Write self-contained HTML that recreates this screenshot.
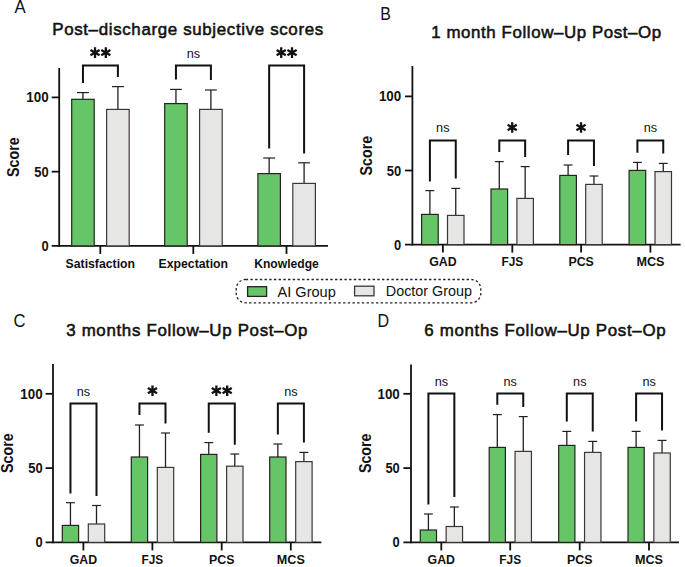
<!DOCTYPE html>
<html><head><meta charset="utf-8"><title>Figure</title>
<style>
html,body{margin:0;padding:0;background:#fff;}
body{width:685px;height:567px;overflow:hidden;}
svg{display:block;font-family:"Liberation Sans",sans-serif;fill:#111;}
svg text{fill:#111;}
</style></head>
<body>
<svg width="685" height="567" viewBox="0 0 685 567">
<rect width="685" height="567" fill="#fff"/>
<text x="14.60" y="12.90" font-size="17.5" font-weight="normal" text-anchor="start" textLength="11.2" lengthAdjust="spacingAndGlyphs">A</text>
<text x="52.20" y="35.20" font-size="16.9" font-weight="normal" text-anchor="start" textLength="271" lengthAdjust="spacing" stroke="#111" stroke-width="0.55">Post–discharge subjective scores</text>
<line x1="59.20" y1="68.00" x2="59.20" y2="246.80" stroke="#111" stroke-width="1.8" stroke-linecap="butt"/>
<line x1="51.70" y1="245.90" x2="328.00" y2="245.90" stroke="#111" stroke-width="1.8" stroke-linecap="butt"/>
<line x1="51.70" y1="171.65" x2="59.20" y2="171.65" stroke="#111" stroke-width="1.8" stroke-linecap="butt"/>
<line x1="51.70" y1="97.40" x2="59.20" y2="97.40" stroke="#111" stroke-width="1.8" stroke-linecap="butt"/>
<text x="48.60" y="250.90" font-size="14.6" font-weight="bold" text-anchor="end" textLength="7.2" lengthAdjust="spacingAndGlyphs">0</text>
<text x="48.60" y="176.65" font-size="14.6" font-weight="bold" text-anchor="end" textLength="14.4" lengthAdjust="spacingAndGlyphs">50</text>
<text x="48.60" y="102.40" font-size="14.6" font-weight="bold" text-anchor="end" textLength="22.3" lengthAdjust="spacingAndGlyphs">100</text>
<text x="0" y="0" font-size="16.2" font-weight="bold" text-anchor="middle" textLength="39.6" lengthAdjust="spacingAndGlyphs" transform="translate(18.50,157.20) rotate(-90)">Score</text>
<line x1="100.30" y1="245.90" x2="100.30" y2="253.90" stroke="#111" stroke-width="1.8" stroke-linecap="butt"/>
<text x="100.30" y="268.20" font-size="13" font-weight="bold" text-anchor="middle" textLength="69.5" lengthAdjust="spacingAndGlyphs">Satisfaction</text>
<line x1="82.95" y1="99.30" x2="82.95" y2="92.60" stroke="#261e1e" stroke-width="1.3" stroke-linecap="butt"/>
<line x1="77.00" y1="92.60" x2="88.90" y2="92.60" stroke="#261e1e" stroke-width="1.2" stroke-linecap="butt"/>
<line x1="117.90" y1="109.40" x2="117.90" y2="86.60" stroke="#261e1e" stroke-width="1.3" stroke-linecap="butt"/>
<line x1="111.95" y1="86.60" x2="123.85" y2="86.60" stroke="#261e1e" stroke-width="1.2" stroke-linecap="butt"/>
<rect x="71.70" y="99.30" width="22.50" height="146.60" fill="#66c566" stroke="#262222" stroke-width="1.2"/>
<rect x="106.60" y="109.40" width="22.60" height="136.50" fill="#e6e6e5" stroke="#3e3636" stroke-width="1.2"/>
<path d="M82.95,83.00V65.50H117.90V76.90" stroke="#111" stroke-width="2.0" fill="none" stroke-linejoin="miter"/>
<path d="M95.02,47.30V57.90M90.44,49.95L99.61,55.25M90.44,55.25L99.61,49.95" stroke="#111" stroke-width="2.3" stroke-linecap="butt" fill="none"/>
<path d="M105.82,47.30V57.90M101.24,49.95L110.41,55.25M101.24,55.25L110.41,49.95" stroke="#111" stroke-width="2.3" stroke-linecap="butt" fill="none"/>
<line x1="193.30" y1="245.90" x2="193.30" y2="253.90" stroke="#111" stroke-width="1.8" stroke-linecap="butt"/>
<text x="193.30" y="268.20" font-size="13" font-weight="bold" text-anchor="middle" textLength="69.5" lengthAdjust="spacingAndGlyphs">Expectation</text>
<line x1="175.95" y1="103.60" x2="175.95" y2="89.40" stroke="#261e1e" stroke-width="1.3" stroke-linecap="butt"/>
<line x1="170.00" y1="89.40" x2="181.90" y2="89.40" stroke="#261e1e" stroke-width="1.2" stroke-linecap="butt"/>
<line x1="210.90" y1="109.40" x2="210.90" y2="90.00" stroke="#261e1e" stroke-width="1.3" stroke-linecap="butt"/>
<line x1="204.95" y1="90.00" x2="216.85" y2="90.00" stroke="#261e1e" stroke-width="1.2" stroke-linecap="butt"/>
<rect x="164.70" y="103.60" width="22.50" height="142.30" fill="#66c566" stroke="#262222" stroke-width="1.2"/>
<rect x="199.60" y="109.40" width="22.60" height="136.50" fill="#e6e6e5" stroke="#3e3636" stroke-width="1.2"/>
<path d="M175.95,79.40V65.50H210.90V80.00" stroke="#111" stroke-width="2.0" fill="none" stroke-linejoin="miter"/>
<text x="193.43" y="57.60" font-size="13.6" font-weight="normal" text-anchor="middle" textLength="13.4" lengthAdjust="spacingAndGlyphs">ns</text>
<line x1="286.50" y1="245.90" x2="286.50" y2="253.90" stroke="#111" stroke-width="1.8" stroke-linecap="butt"/>
<text x="286.50" y="268.20" font-size="13" font-weight="bold" text-anchor="middle" textLength="64.6" lengthAdjust="spacingAndGlyphs">Knowledge</text>
<line x1="269.15" y1="173.60" x2="269.15" y2="158.00" stroke="#261e1e" stroke-width="1.3" stroke-linecap="butt"/>
<line x1="263.20" y1="158.00" x2="275.10" y2="158.00" stroke="#261e1e" stroke-width="1.2" stroke-linecap="butt"/>
<line x1="304.10" y1="183.40" x2="304.10" y2="162.80" stroke="#261e1e" stroke-width="1.3" stroke-linecap="butt"/>
<line x1="298.15" y1="162.80" x2="310.05" y2="162.80" stroke="#261e1e" stroke-width="1.2" stroke-linecap="butt"/>
<rect x="257.90" y="173.60" width="22.50" height="72.30" fill="#66c566" stroke="#262222" stroke-width="1.2"/>
<rect x="292.80" y="183.40" width="22.60" height="62.50" fill="#e6e6e5" stroke="#3e3636" stroke-width="1.2"/>
<path d="M269.15,148.40V65.50H304.10V153.40" stroke="#111" stroke-width="2.0" fill="none" stroke-linejoin="miter"/>
<path d="M281.23,47.30V57.90M276.64,49.95L285.81,55.25M276.64,55.25L285.81,49.95" stroke="#111" stroke-width="2.3" stroke-linecap="butt" fill="none"/>
<path d="M292.02,47.30V57.90M287.44,49.95L296.61,55.25M287.44,55.25L296.61,49.95" stroke="#111" stroke-width="2.3" stroke-linecap="butt" fill="none"/>
<text x="380.20" y="19.60" font-size="17.5" font-weight="normal" text-anchor="start" textLength="10.6" lengthAdjust="spacingAndGlyphs">B</text>
<text x="431.20" y="38.20" font-size="16.9" font-weight="normal" text-anchor="start" textLength="230" lengthAdjust="spacing" stroke="#111" stroke-width="0.55">1 month Follow–Up Post–Op</text>
<line x1="412.40" y1="66.00" x2="412.40" y2="245.50" stroke="#111" stroke-width="1.8" stroke-linecap="butt"/>
<line x1="405.00" y1="244.60" x2="680.60" y2="244.60" stroke="#111" stroke-width="1.8" stroke-linecap="butt"/>
<line x1="405.00" y1="170.50" x2="412.40" y2="170.50" stroke="#111" stroke-width="1.8" stroke-linecap="butt"/>
<line x1="405.00" y1="96.40" x2="412.40" y2="96.40" stroke="#111" stroke-width="1.8" stroke-linecap="butt"/>
<text x="401.20" y="249.60" font-size="14.6" font-weight="bold" text-anchor="end" textLength="7.2" lengthAdjust="spacingAndGlyphs">0</text>
<text x="401.20" y="175.50" font-size="14.6" font-weight="bold" text-anchor="end" textLength="14.4" lengthAdjust="spacingAndGlyphs">50</text>
<text x="401.20" y="101.40" font-size="14.6" font-weight="bold" text-anchor="end" textLength="22.3" lengthAdjust="spacingAndGlyphs">100</text>
<text x="0" y="0" font-size="16.2" font-weight="bold" text-anchor="middle" textLength="39.6" lengthAdjust="spacingAndGlyphs" transform="translate(372.20,155.70) rotate(-90)">Score</text>
<line x1="442.90" y1="244.60" x2="442.90" y2="252.60" stroke="#111" stroke-width="1.8" stroke-linecap="butt"/>
<text x="442.90" y="265.80" font-size="13" font-weight="bold" text-anchor="middle" textLength="27.4" lengthAdjust="spacingAndGlyphs">GAD</text>
<line x1="429.90" y1="214.40" x2="429.90" y2="190.60" stroke="#261e1e" stroke-width="1.3" stroke-linecap="butt"/>
<line x1="425.45" y1="190.60" x2="434.35" y2="190.60" stroke="#261e1e" stroke-width="1.2" stroke-linecap="butt"/>
<line x1="455.75" y1="215.40" x2="455.75" y2="188.40" stroke="#261e1e" stroke-width="1.3" stroke-linecap="butt"/>
<line x1="451.30" y1="188.40" x2="460.20" y2="188.40" stroke="#261e1e" stroke-width="1.2" stroke-linecap="butt"/>
<rect x="421.60" y="214.40" width="16.60" height="30.20" fill="#66c566" stroke="#262222" stroke-width="1.2"/>
<rect x="447.50" y="215.40" width="16.50" height="29.20" fill="#e6e6e5" stroke="#3e3636" stroke-width="1.2"/>
<path d="M429.90,181.40V140.40H455.75V178.40" stroke="#111" stroke-width="2.0" fill="none" stroke-linejoin="miter"/>
<text x="442.82" y="131.80" font-size="13.6" font-weight="normal" text-anchor="middle" textLength="13.4" lengthAdjust="spacingAndGlyphs">ns</text>
<line x1="512.30" y1="244.60" x2="512.30" y2="252.60" stroke="#111" stroke-width="1.8" stroke-linecap="butt"/>
<text x="512.30" y="265.80" font-size="13" font-weight="bold" text-anchor="middle" textLength="21.8" lengthAdjust="spacingAndGlyphs">FJS</text>
<line x1="499.30" y1="189.00" x2="499.30" y2="161.60" stroke="#261e1e" stroke-width="1.3" stroke-linecap="butt"/>
<line x1="494.85" y1="161.60" x2="503.75" y2="161.60" stroke="#261e1e" stroke-width="1.2" stroke-linecap="butt"/>
<line x1="525.15" y1="198.40" x2="525.15" y2="166.60" stroke="#261e1e" stroke-width="1.3" stroke-linecap="butt"/>
<line x1="520.70" y1="166.60" x2="529.60" y2="166.60" stroke="#261e1e" stroke-width="1.2" stroke-linecap="butt"/>
<rect x="491.00" y="189.00" width="16.60" height="55.60" fill="#66c566" stroke="#262222" stroke-width="1.2"/>
<rect x="516.90" y="198.40" width="16.50" height="46.20" fill="#e6e6e5" stroke="#3e3636" stroke-width="1.2"/>
<path d="M499.30,152.00V140.40H525.15V157.00" stroke="#111" stroke-width="2.0" fill="none" stroke-linejoin="miter"/>
<path d="M512.22,122.20V132.80M507.64,124.85L516.81,130.15M507.64,130.15L516.81,124.85" stroke="#111" stroke-width="2.3" stroke-linecap="butt" fill="none"/>
<line x1="581.10" y1="244.60" x2="581.10" y2="252.60" stroke="#111" stroke-width="1.8" stroke-linecap="butt"/>
<text x="581.10" y="265.80" font-size="13" font-weight="bold" text-anchor="middle" textLength="25.4" lengthAdjust="spacingAndGlyphs">PCS</text>
<line x1="568.10" y1="175.40" x2="568.10" y2="165.00" stroke="#261e1e" stroke-width="1.3" stroke-linecap="butt"/>
<line x1="563.65" y1="165.00" x2="572.55" y2="165.00" stroke="#261e1e" stroke-width="1.2" stroke-linecap="butt"/>
<line x1="593.95" y1="184.40" x2="593.95" y2="176.00" stroke="#261e1e" stroke-width="1.3" stroke-linecap="butt"/>
<line x1="589.50" y1="176.00" x2="598.40" y2="176.00" stroke="#261e1e" stroke-width="1.2" stroke-linecap="butt"/>
<rect x="559.80" y="175.40" width="16.60" height="69.20" fill="#66c566" stroke="#262222" stroke-width="1.2"/>
<rect x="585.70" y="184.40" width="16.50" height="60.20" fill="#e6e6e5" stroke="#3e3636" stroke-width="1.2"/>
<path d="M568.10,155.00V140.40H593.95V166.00" stroke="#111" stroke-width="2.0" fill="none" stroke-linejoin="miter"/>
<path d="M581.03,122.20V132.80M576.44,124.85L585.61,130.15M576.44,130.15L585.61,124.85" stroke="#111" stroke-width="2.3" stroke-linecap="butt" fill="none"/>
<line x1="650.40" y1="244.60" x2="650.40" y2="252.60" stroke="#111" stroke-width="1.8" stroke-linecap="butt"/>
<text x="650.40" y="265.80" font-size="13" font-weight="bold" text-anchor="middle" textLength="28.0" lengthAdjust="spacingAndGlyphs">MCS</text>
<line x1="637.40" y1="170.40" x2="637.40" y2="162.40" stroke="#261e1e" stroke-width="1.3" stroke-linecap="butt"/>
<line x1="632.95" y1="162.40" x2="641.85" y2="162.40" stroke="#261e1e" stroke-width="1.2" stroke-linecap="butt"/>
<line x1="663.25" y1="171.60" x2="663.25" y2="163.40" stroke="#261e1e" stroke-width="1.3" stroke-linecap="butt"/>
<line x1="658.80" y1="163.40" x2="667.70" y2="163.40" stroke="#261e1e" stroke-width="1.2" stroke-linecap="butt"/>
<rect x="629.10" y="170.40" width="16.60" height="74.20" fill="#66c566" stroke="#262222" stroke-width="1.2"/>
<rect x="655.00" y="171.60" width="16.50" height="73.00" fill="#e6e6e5" stroke="#3e3636" stroke-width="1.2"/>
<path d="M637.40,152.80V140.40H663.25V153.40" stroke="#111" stroke-width="2.0" fill="none" stroke-linejoin="miter"/>
<text x="650.33" y="131.80" font-size="13.6" font-weight="normal" text-anchor="middle" textLength="13.4" lengthAdjust="spacingAndGlyphs">ns</text>
<text x="13.40" y="327.20" font-size="17.5" font-weight="normal" text-anchor="start" textLength="12" lengthAdjust="spacingAndGlyphs">C</text>
<text x="66.20" y="336.20" font-size="16.9" font-weight="normal" text-anchor="start" textLength="241.2" lengthAdjust="spacing" stroke="#111" stroke-width="0.55">3 months Follow–Up Post–Op</text>
<line x1="53.00" y1="364.00" x2="53.00" y2="543.30" stroke="#111" stroke-width="1.8" stroke-linecap="butt"/>
<line x1="45.60" y1="542.40" x2="321.40" y2="542.40" stroke="#111" stroke-width="1.8" stroke-linecap="butt"/>
<line x1="45.60" y1="468.10" x2="53.00" y2="468.10" stroke="#111" stroke-width="1.8" stroke-linecap="butt"/>
<line x1="45.60" y1="393.80" x2="53.00" y2="393.80" stroke="#111" stroke-width="1.8" stroke-linecap="butt"/>
<text x="42.60" y="547.40" font-size="14.6" font-weight="bold" text-anchor="end" textLength="7.2" lengthAdjust="spacingAndGlyphs">0</text>
<text x="42.60" y="473.10" font-size="14.6" font-weight="bold" text-anchor="end" textLength="14.4" lengthAdjust="spacingAndGlyphs">50</text>
<text x="42.60" y="398.80" font-size="14.6" font-weight="bold" text-anchor="end" textLength="22.3" lengthAdjust="spacingAndGlyphs">100</text>
<text x="0" y="0" font-size="16.2" font-weight="bold" text-anchor="middle" textLength="39.6" lengthAdjust="spacingAndGlyphs" transform="translate(12.70,453.10) rotate(-90)">Score</text>
<line x1="83.40" y1="542.40" x2="83.40" y2="550.40" stroke="#111" stroke-width="1.8" stroke-linecap="butt"/>
<text x="83.40" y="563.80" font-size="13" font-weight="bold" text-anchor="middle" textLength="27.4" lengthAdjust="spacingAndGlyphs">GAD</text>
<line x1="70.45" y1="525.40" x2="70.45" y2="502.70" stroke="#261e1e" stroke-width="1.3" stroke-linecap="butt"/>
<line x1="66.00" y1="502.70" x2="74.90" y2="502.70" stroke="#261e1e" stroke-width="1.2" stroke-linecap="butt"/>
<line x1="96.50" y1="524.00" x2="96.50" y2="505.50" stroke="#261e1e" stroke-width="1.3" stroke-linecap="butt"/>
<line x1="92.05" y1="505.50" x2="100.95" y2="505.50" stroke="#261e1e" stroke-width="1.2" stroke-linecap="butt"/>
<rect x="62.30" y="525.40" width="16.30" height="17.00" fill="#66c566" stroke="#262222" stroke-width="1.2"/>
<rect x="88.30" y="524.00" width="16.40" height="18.40" fill="#e6e6e5" stroke="#3e3636" stroke-width="1.2"/>
<path d="M70.45,493.40V403.60H96.50V496.00" stroke="#111" stroke-width="2.0" fill="none" stroke-linejoin="miter"/>
<text x="83.47" y="395.80" font-size="13.6" font-weight="normal" text-anchor="middle" textLength="13.4" lengthAdjust="spacingAndGlyphs">ns</text>
<line x1="152.40" y1="542.40" x2="152.40" y2="550.40" stroke="#111" stroke-width="1.8" stroke-linecap="butt"/>
<text x="152.40" y="563.80" font-size="13" font-weight="bold" text-anchor="middle" textLength="21.8" lengthAdjust="spacingAndGlyphs">FJS</text>
<line x1="139.45" y1="457.00" x2="139.45" y2="425.00" stroke="#261e1e" stroke-width="1.3" stroke-linecap="butt"/>
<line x1="135.00" y1="425.00" x2="143.90" y2="425.00" stroke="#261e1e" stroke-width="1.2" stroke-linecap="butt"/>
<line x1="165.50" y1="467.40" x2="165.50" y2="433.00" stroke="#261e1e" stroke-width="1.3" stroke-linecap="butt"/>
<line x1="161.05" y1="433.00" x2="169.95" y2="433.00" stroke="#261e1e" stroke-width="1.2" stroke-linecap="butt"/>
<rect x="131.30" y="457.00" width="16.30" height="85.40" fill="#66c566" stroke="#262222" stroke-width="1.2"/>
<rect x="157.30" y="467.40" width="16.40" height="75.00" fill="#e6e6e5" stroke="#3e3636" stroke-width="1.2"/>
<path d="M139.45,415.00V403.60H165.50V423.40" stroke="#111" stroke-width="2.0" fill="none" stroke-linejoin="miter"/>
<path d="M152.47,385.40V396.00M147.89,388.05L157.06,393.35M147.89,393.35L157.06,388.05" stroke="#111" stroke-width="2.3" stroke-linecap="butt" fill="none"/>
<line x1="221.70" y1="542.40" x2="221.70" y2="550.40" stroke="#111" stroke-width="1.8" stroke-linecap="butt"/>
<text x="221.70" y="563.80" font-size="13" font-weight="bold" text-anchor="middle" textLength="25.4" lengthAdjust="spacingAndGlyphs">PCS</text>
<line x1="208.75" y1="454.40" x2="208.75" y2="442.60" stroke="#261e1e" stroke-width="1.3" stroke-linecap="butt"/>
<line x1="204.30" y1="442.60" x2="213.20" y2="442.60" stroke="#261e1e" stroke-width="1.2" stroke-linecap="butt"/>
<line x1="234.80" y1="466.20" x2="234.80" y2="454.00" stroke="#261e1e" stroke-width="1.3" stroke-linecap="butt"/>
<line x1="230.35" y1="454.00" x2="239.25" y2="454.00" stroke="#261e1e" stroke-width="1.2" stroke-linecap="butt"/>
<rect x="200.60" y="454.40" width="16.30" height="88.00" fill="#66c566" stroke="#262222" stroke-width="1.2"/>
<rect x="226.60" y="466.20" width="16.40" height="76.20" fill="#e6e6e5" stroke="#3e3636" stroke-width="1.2"/>
<path d="M208.75,432.80V403.60H234.80V444.80" stroke="#111" stroke-width="2.0" fill="none" stroke-linejoin="miter"/>
<path d="M216.38,385.40V396.00M211.79,388.05L220.96,393.35M211.79,393.35L220.96,388.05" stroke="#111" stroke-width="2.3" stroke-linecap="butt" fill="none"/>
<path d="M227.18,385.40V396.00M222.59,388.05L231.76,393.35M222.59,393.35L231.76,388.05" stroke="#111" stroke-width="2.3" stroke-linecap="butt" fill="none"/>
<line x1="290.80" y1="542.40" x2="290.80" y2="550.40" stroke="#111" stroke-width="1.8" stroke-linecap="butt"/>
<text x="290.80" y="563.80" font-size="13" font-weight="bold" text-anchor="middle" textLength="28.0" lengthAdjust="spacingAndGlyphs">MCS</text>
<line x1="277.85" y1="457.00" x2="277.85" y2="444.00" stroke="#261e1e" stroke-width="1.3" stroke-linecap="butt"/>
<line x1="273.40" y1="444.00" x2="282.30" y2="444.00" stroke="#261e1e" stroke-width="1.2" stroke-linecap="butt"/>
<line x1="303.90" y1="461.60" x2="303.90" y2="452.40" stroke="#261e1e" stroke-width="1.3" stroke-linecap="butt"/>
<line x1="299.45" y1="452.40" x2="308.35" y2="452.40" stroke="#261e1e" stroke-width="1.2" stroke-linecap="butt"/>
<rect x="269.70" y="457.00" width="16.30" height="85.40" fill="#66c566" stroke="#262222" stroke-width="1.2"/>
<rect x="295.70" y="461.60" width="16.40" height="80.80" fill="#e6e6e5" stroke="#3e3636" stroke-width="1.2"/>
<path d="M277.85,434.40V403.60H303.90V442.40" stroke="#111" stroke-width="2.0" fill="none" stroke-linejoin="miter"/>
<text x="290.88" y="395.80" font-size="13.6" font-weight="normal" text-anchor="middle" textLength="13.4" lengthAdjust="spacingAndGlyphs">ns</text>
<text x="377.60" y="326.90" font-size="17.5" font-weight="normal" text-anchor="start" textLength="11.6" lengthAdjust="spacingAndGlyphs">D</text>
<text x="424.20" y="336.40" font-size="16.9" font-weight="normal" text-anchor="start" textLength="241.4" lengthAdjust="spacing" stroke="#111" stroke-width="0.55">6 months Follow–Up Post–Op</text>
<line x1="411.00" y1="364.40" x2="411.00" y2="543.30" stroke="#111" stroke-width="1.8" stroke-linecap="butt"/>
<line x1="403.40" y1="542.40" x2="679.00" y2="542.40" stroke="#111" stroke-width="1.8" stroke-linecap="butt"/>
<line x1="403.40" y1="468.10" x2="411.00" y2="468.10" stroke="#111" stroke-width="1.8" stroke-linecap="butt"/>
<line x1="403.40" y1="393.80" x2="411.00" y2="393.80" stroke="#111" stroke-width="1.8" stroke-linecap="butt"/>
<text x="399.80" y="547.40" font-size="14.6" font-weight="bold" text-anchor="end" textLength="7.2" lengthAdjust="spacingAndGlyphs">0</text>
<text x="399.80" y="473.10" font-size="14.6" font-weight="bold" text-anchor="end" textLength="14.4" lengthAdjust="spacingAndGlyphs">50</text>
<text x="399.80" y="398.80" font-size="14.6" font-weight="bold" text-anchor="end" textLength="22.3" lengthAdjust="spacingAndGlyphs">100</text>
<text x="0" y="0" font-size="16.2" font-weight="bold" text-anchor="middle" textLength="39.6" lengthAdjust="spacingAndGlyphs" transform="translate(370.70,453.30) rotate(-90)">Score</text>
<line x1="441.30" y1="542.40" x2="441.30" y2="550.40" stroke="#111" stroke-width="1.8" stroke-linecap="butt"/>
<text x="441.30" y="563.80" font-size="13" font-weight="bold" text-anchor="middle" textLength="27.4" lengthAdjust="spacingAndGlyphs">GAD</text>
<line x1="428.40" y1="530.00" x2="428.40" y2="514.00" stroke="#261e1e" stroke-width="1.3" stroke-linecap="butt"/>
<line x1="423.95" y1="514.00" x2="432.85" y2="514.00" stroke="#261e1e" stroke-width="1.2" stroke-linecap="butt"/>
<line x1="454.35" y1="526.50" x2="454.35" y2="507.00" stroke="#261e1e" stroke-width="1.3" stroke-linecap="butt"/>
<line x1="449.90" y1="507.00" x2="458.80" y2="507.00" stroke="#261e1e" stroke-width="1.2" stroke-linecap="butt"/>
<rect x="420.30" y="530.00" width="16.20" height="12.40" fill="#66c566" stroke="#262222" stroke-width="1.2"/>
<rect x="446.15" y="526.50" width="16.40" height="15.90" fill="#e6e6e5" stroke="#3e3636" stroke-width="1.2"/>
<path d="M428.40,504.40V393.40H454.35V497.00" stroke="#111" stroke-width="2.0" fill="none" stroke-linejoin="miter"/>
<text x="441.38" y="385.80" font-size="13.6" font-weight="normal" text-anchor="middle" textLength="13.4" lengthAdjust="spacingAndGlyphs">ns</text>
<line x1="510.20" y1="542.40" x2="510.20" y2="550.40" stroke="#111" stroke-width="1.8" stroke-linecap="butt"/>
<text x="510.20" y="563.80" font-size="13" font-weight="bold" text-anchor="middle" textLength="21.8" lengthAdjust="spacingAndGlyphs">FJS</text>
<line x1="497.30" y1="447.40" x2="497.30" y2="414.60" stroke="#261e1e" stroke-width="1.3" stroke-linecap="butt"/>
<line x1="492.85" y1="414.60" x2="501.75" y2="414.60" stroke="#261e1e" stroke-width="1.2" stroke-linecap="butt"/>
<line x1="523.25" y1="451.40" x2="523.25" y2="416.60" stroke="#261e1e" stroke-width="1.3" stroke-linecap="butt"/>
<line x1="518.80" y1="416.60" x2="527.70" y2="416.60" stroke="#261e1e" stroke-width="1.2" stroke-linecap="butt"/>
<rect x="489.20" y="447.40" width="16.20" height="95.00" fill="#66c566" stroke="#262222" stroke-width="1.2"/>
<rect x="515.05" y="451.40" width="16.40" height="91.00" fill="#e6e6e5" stroke="#3e3636" stroke-width="1.2"/>
<path d="M497.30,404.80V393.40H523.25V407.00" stroke="#111" stroke-width="2.0" fill="none" stroke-linejoin="miter"/>
<text x="510.27" y="385.80" font-size="13.6" font-weight="normal" text-anchor="middle" textLength="13.4" lengthAdjust="spacingAndGlyphs">ns</text>
<line x1="579.70" y1="542.40" x2="579.70" y2="550.40" stroke="#111" stroke-width="1.8" stroke-linecap="butt"/>
<text x="579.70" y="563.80" font-size="13" font-weight="bold" text-anchor="middle" textLength="25.4" lengthAdjust="spacingAndGlyphs">PCS</text>
<line x1="566.80" y1="445.40" x2="566.80" y2="431.40" stroke="#261e1e" stroke-width="1.3" stroke-linecap="butt"/>
<line x1="562.35" y1="431.40" x2="571.25" y2="431.40" stroke="#261e1e" stroke-width="1.2" stroke-linecap="butt"/>
<line x1="592.75" y1="452.40" x2="592.75" y2="441.40" stroke="#261e1e" stroke-width="1.3" stroke-linecap="butt"/>
<line x1="588.30" y1="441.40" x2="597.20" y2="441.40" stroke="#261e1e" stroke-width="1.2" stroke-linecap="butt"/>
<rect x="558.70" y="445.40" width="16.20" height="97.00" fill="#66c566" stroke="#262222" stroke-width="1.2"/>
<rect x="584.55" y="452.40" width="16.40" height="90.00" fill="#e6e6e5" stroke="#3e3636" stroke-width="1.2"/>
<path d="M566.80,421.40V393.40H592.75V431.40" stroke="#111" stroke-width="2.0" fill="none" stroke-linejoin="miter"/>
<text x="579.78" y="385.80" font-size="13.6" font-weight="normal" text-anchor="middle" textLength="13.4" lengthAdjust="spacingAndGlyphs">ns</text>
<line x1="649.00" y1="542.40" x2="649.00" y2="550.40" stroke="#111" stroke-width="1.8" stroke-linecap="butt"/>
<text x="649.00" y="563.80" font-size="13" font-weight="bold" text-anchor="middle" textLength="28.0" lengthAdjust="spacingAndGlyphs">MCS</text>
<line x1="636.10" y1="447.40" x2="636.10" y2="431.40" stroke="#261e1e" stroke-width="1.3" stroke-linecap="butt"/>
<line x1="631.65" y1="431.40" x2="640.55" y2="431.40" stroke="#261e1e" stroke-width="1.2" stroke-linecap="butt"/>
<line x1="662.05" y1="453.00" x2="662.05" y2="440.40" stroke="#261e1e" stroke-width="1.3" stroke-linecap="butt"/>
<line x1="657.60" y1="440.40" x2="666.50" y2="440.40" stroke="#261e1e" stroke-width="1.2" stroke-linecap="butt"/>
<rect x="628.00" y="447.40" width="16.20" height="95.00" fill="#66c566" stroke="#262222" stroke-width="1.2"/>
<rect x="653.85" y="453.00" width="16.40" height="89.40" fill="#e6e6e5" stroke="#3e3636" stroke-width="1.2"/>
<path d="M636.10,421.40V393.40H662.05V430.40" stroke="#111" stroke-width="2.0" fill="none" stroke-linejoin="miter"/>
<text x="649.08" y="385.80" font-size="13.6" font-weight="normal" text-anchor="middle" textLength="13.4" lengthAdjust="spacingAndGlyphs">ns</text>
<rect x="236.2" y="279.5" width="244.6" height="23.3" rx="9.5" ry="9.5" fill="none" stroke="#222" stroke-width="1.3" stroke-dasharray="2.4 2.3"/>
<rect x="247.6" y="286.7" width="19" height="9.7" fill="#66c566" stroke="#262222" stroke-width="1.3"/>
<rect x="354.6" y="286.2" width="19.4" height="9.6" fill="#e6e6e5" stroke="#3e3636" stroke-width="1.3"/>
<text x="277.60" y="296.70" font-size="14.8" font-weight="normal" text-anchor="start" textLength="58.2" lengthAdjust="spacingAndGlyphs">AI Group</text>
<text x="385.80" y="296.20" font-size="14.8" font-weight="normal" text-anchor="start" textLength="86.2" lengthAdjust="spacingAndGlyphs">Doctor Group</text>
</svg>
</body></html>
